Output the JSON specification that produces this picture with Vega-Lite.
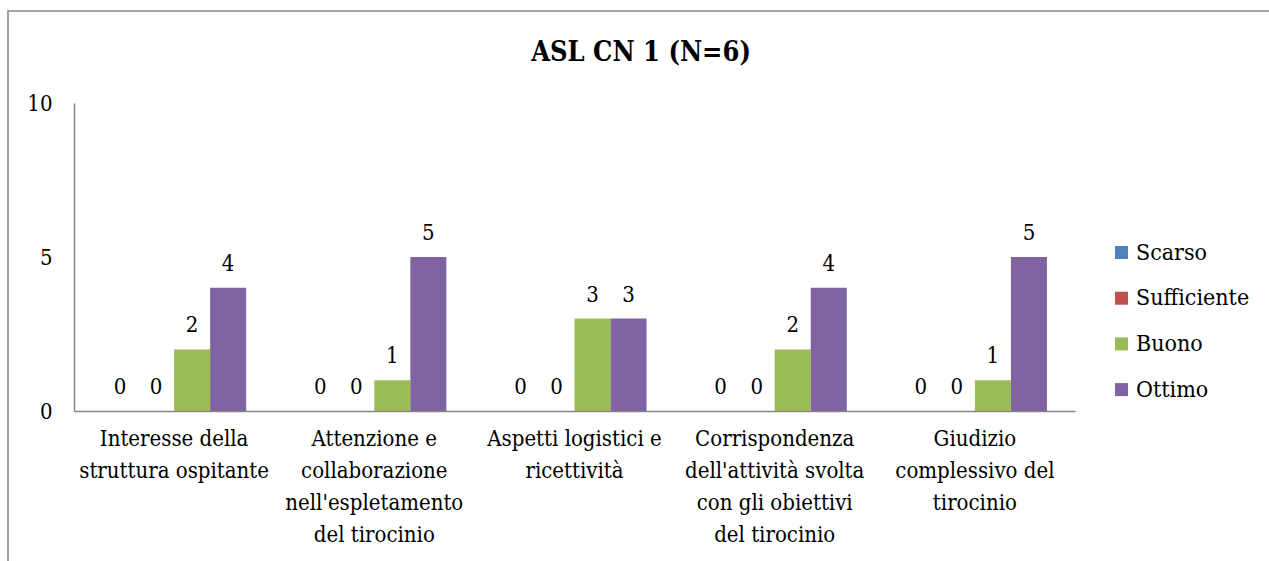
{
  "$schema": "https://vega.github.io/schema/vega-lite/v6.json",
  "width": 1270,
  "height": 560,
  "autosize": {"type": "none"},
  "padding": {"left": 8, "top": 11, "right": 0, "bottom": 0},
  "background": "white",
  "config": {
    "view": {"stroke": "#868686", "strokeWidth": 1.5}
  },
  "title": {
    "text": "ASL CN 1 (N=6)",
    "font": "DejaVu Serif Condensed",
    "fontSize": 27,
    "fontWeight": "bold",
    "color": "black",
    "anchor": "middle",
    "frame": "group",
    "baseline": "alphabetic",
    "offset": -77,
    "dx": -2
  },
  "data": {
    "values": [
      {"cat": "Interesse della|struttura ospitante", "giudizio": "Scarso", "n": 0},
      {"cat": "Interesse della|struttura ospitante", "giudizio": "Sufficiente", "n": 0},
      {"cat": "Interesse della|struttura ospitante", "giudizio": "Buono", "n": 2},
      {"cat": "Interesse della|struttura ospitante", "giudizio": "Ottimo", "n": 4},
      {"cat": "Attenzione e|collaborazione|nell'espletamento|del tirocinio", "giudizio": "Scarso", "n": 0},
      {"cat": "Attenzione e|collaborazione|nell'espletamento|del tirocinio", "giudizio": "Sufficiente", "n": 0},
      {"cat": "Attenzione e|collaborazione|nell'espletamento|del tirocinio", "giudizio": "Buono", "n": 1},
      {"cat": "Attenzione e|collaborazione|nell'espletamento|del tirocinio", "giudizio": "Ottimo", "n": 5},
      {"cat": "Aspetti logistici e|ricettività", "giudizio": "Scarso", "n": 0},
      {"cat": "Aspetti logistici e|ricettività", "giudizio": "Sufficiente", "n": 0},
      {"cat": "Aspetti logistici e|ricettività", "giudizio": "Buono", "n": 3},
      {"cat": "Aspetti logistici e|ricettività", "giudizio": "Ottimo", "n": 3},
      {"cat": "Corrispondenza|dell'attività svolta|con gli obiettivi|del tirocinio", "giudizio": "Scarso", "n": 0},
      {"cat": "Corrispondenza|dell'attività svolta|con gli obiettivi|del tirocinio", "giudizio": "Sufficiente", "n": 0},
      {"cat": "Corrispondenza|dell'attività svolta|con gli obiettivi|del tirocinio", "giudizio": "Buono", "n": 2},
      {"cat": "Corrispondenza|dell'attività svolta|con gli obiettivi|del tirocinio", "giudizio": "Ottimo", "n": 4},
      {"cat": "Giudizio|complessivo del|tirocinio", "giudizio": "Scarso", "n": 0},
      {"cat": "Giudizio|complessivo del|tirocinio", "giudizio": "Sufficiente", "n": 0},
      {"cat": "Giudizio|complessivo del|tirocinio", "giudizio": "Buono", "n": 1},
      {"cat": "Giudizio|complessivo del|tirocinio", "giudizio": "Ottimo", "n": 5}
    ]
  },
  "encoding": {
    "x": {
      "field": "cat",
      "type": "nominal",
      "sort": null,
      "scale": {"range": [66, 1067], "paddingInner": 0.28, "paddingOuter": 0.14},
      "axis": {
        "title": null,
        "labelAngle": 0,
        "labelExpr": "split(datum.label, '|')",
        "labelFont": "DejaVu Serif Condensed",
        "labelFontSize": 22,
        "labelColor": "black",
        "labelLineHeight": 32,
        "labelBaseline": "top",
        "labelPadding": 17,
        "labelLimit": 0,
        "ticks": false,
        "domainColor": "#868686",
        "domainWidth": 1.5,
        "offset": -160
      }
    },
    "xOffset": {
      "field": "giudizio",
      "type": "nominal",
      "sort": ["Scarso", "Sufficiente", "Buono", "Ottimo"],
      "scale": {"paddingInner": 0, "paddingOuter": 0}
    },
    "y": {
      "field": "n",
      "type": "quantitative",
      "scale": {"domain": [0, 10], "range": [400, 92], "nice": false},
      "axis": {
        "title": null,
        "values": [0, 5, 10],
        "grid": false,
        "ticks": false,
        "labelFont": "DejaVu Serif Condensed",
        "labelFontSize": 22,
        "labelColor": "black",
        "labelPadding": 22,
        "domainColor": "#868686",
        "domainWidth": 1.5,
        "offset": -66
      }
    }
  },
  "layer": [
    {
      "mark": {"type": "bar"},
      "encoding": {
        "color": {
          "field": "giudizio",
          "type": "nominal",
          "sort": ["Scarso", "Sufficiente", "Buono", "Ottimo"],
          "scale": {
            "domain": ["Scarso", "Sufficiente", "Buono", "Ottimo"],
            "range": ["#4F81BD", "#C0504D", "#9BBB59", "#8064A2"]
          },
          "legend": {
            "title": null,
            "orient": "none",
            "legendX": 1102,
            "legendY": 230,
            "symbolType": "square",
            "symbolSize": 170,
            "symbolStrokeWidth": 0,
            "labelFont": "DejaVu Serif Condensed",
            "labelFontSize": 23,
            "labelColor": "black",
            "rowPadding": 21.7,
            "labelOffset": 3
          }
        }
      }
    },
    {
      "mark": {
        "type": "text",
        "baseline": "alphabetic",
        "dy": -17,
        "font": "DejaVu Serif Condensed",
        "fontSize": 22,
        "color": "black"
      },
      "encoding": {"text": {"field": "n", "type": "quantitative"}}
    }
  ]
}
